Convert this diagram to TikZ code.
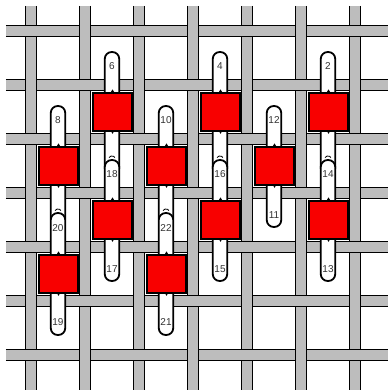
\documentclass[tikz,border=0pt]{standalone}
\usepackage{fontspec}
\setmainfont{Liberation Sans}
\definecolor{bargray}{HTML}{BDBDBD}
\definecolor{patchred}{HTML}{F80000}
\begin{document}
\begin{tikzpicture}[x=1pt, y=-1pt,
 hbar/.style={rectangle, fill=bargray, minimum width=382pt, minimum height=10.5pt, inner sep=0pt},
 vbar/.style={rectangle, fill=bargray, minimum width=10.5pt, minimum height=384pt, inner sep=0pt},
 strap/.style={rectangle, rounded corners=7pt, draw, line width=1.8pt, fill=white, minimum width=14.5pt, inner sep=0pt},
 patch/.style={rectangle, draw, line width=2pt, fill=patchred, minimum size=38.2pt, inner sep=0pt},
 num/.style={font=\fontsize{10}{11}\selectfont, text=black!80, inner sep=0pt},
 edge/.style={line width=1.1pt},
]
\useasboundingbox (0,0) rectangle (388,390);
% vertical bars first
\foreach \c in {31,85,139,193,247,301,355}{
 \node[vbar] (v\c) at (\c,198) {};
 \draw[edge] (v\c.north west) -- (v\c.south west);
 \draw[edge] (v\c.north east) -- (v\c.south east);
}
% horizontal bars on top
\foreach \r in {31,85,139,193,247,301,355}{
 \node[hbar] (h\r) at (197,\r) {};
 \draw[edge] (h\r.north west) -- (h\r.north east);
 \draw[edge] (h\r.south west) -- (h\r.south east);
}
% vertical bars back over every other crossing
\foreach \c/\r in {85/31,193/31,301/31,31/85,139/85,247/85,355/85,85/139,193/139,301/139,
 31/193,139/193,247/193,355/193,85/247,193/247,301/247,31/301,139/301,247/301,355/301,
 85/355,193/355,301/355}{
 \fill[bargray] (\c-5.25,\r-6.5) rectangle (\c+5.25,\r+6.5);
 \draw[edge] (\c-5.25,\r-6.5) -- (\c-5.25,\r+6.5);
 \draw[edge] (\c+5.25,\r-6.5) -- (\c+5.25,\r+6.5);
}
% straps, upper ones first
\node[strap, minimum height=123pt] (s6) at (112,113.5) {};
\node[strap, minimum height=123pt] (s4) at (220,113.5) {};
\node[strap, minimum height=123pt] (s2) at (328,113.5) {};
\node[strap, minimum height=119pt] (s8) at (58,165.5) {};
\node[strap, minimum height=119pt] (s10) at (166,165.5) {};
\node[strap, minimum height=121pt] (s12) at (274,166.5) {};
\node[strap, minimum height=121pt] (s18) at (112,220.5) {};
\node[strap, minimum height=121pt] (s16) at (220,220.5) {};
\node[strap, minimum height=121pt] (s14) at (328,220.5) {};
\node[strap, minimum height=122pt] (s20) at (58,274) {};
\node[strap, minimum height=122pt] (s22) at (166,274) {};
% the small arcs over the lower straps
\foreach \s in {s18,s16,s14,s20,s22}{
 \draw[line width=0.8pt] ([xshift=-3pt,yshift=1.5pt]\s.north) arc[start angle=150, end angle=30, radius=3.4pt];
}
% red patches
\node[patch] (p6) at (112.5,112) {};
\node[patch] (p4) at (220.5,112) {};
\node[patch] (p2) at (328.5,112) {};
\node[patch] (p8) at (58.5,166) {};
\node[patch] (p10) at (166.5,166) {};
\node[patch] (p12) at (274.5,166) {};
\node[patch] (p18) at (112.5,220) {};
\node[patch] (p16) at (220.5,220) {};
\node[patch] (p14) at (328.5,220) {};
\node[patch] (p20) at (58.5,274) {};
\node[patch] (p22) at (166.5,274) {};
% the little ticks on each patch
\foreach \p in {p6,p4,p2,p8,p10,p12,p18,p16,p14,p20,p22}{
 \fill (\p.north) ++(-1.5,0) -- ++(1.5,-2.5) -- ++(1.5,2.5) -- cycle;
 \fill (\p.south) ++(-1,0) -- ++(1,1.8) -- ++(1,-1.8) -- cycle;
}
% numbers
\node[num] (n6) at (112,66) {6};
\node[num] (n4) at (220,66) {4};
\node[num] (n2) at (328,66) {2};
\node[num] (n8) at (58,120) {8};
\node[num] (n10) at (166,120) {10};
\node[num] (n12) at (274,120) {12};
\node[num] (n18) at (112,174) {18};
\node[num] (n16) at (220,174) {16};
\node[num] (n14) at (328,174) {14};
\node[num] (n11) at (274,215) {11};
\node[num] (n20) at (58,228) {20};
\node[num] (n22) at (166,228) {22};
\node[num] (n17) at (112,269) {17};
\node[num] (n15) at (220,269) {15};
\node[num] (n13) at (328,269) {13};
\node[num] (n19) at (58,322) {19};
\node[num] (n21) at (166,322) {21};
\end{tikzpicture}
\end{document}
